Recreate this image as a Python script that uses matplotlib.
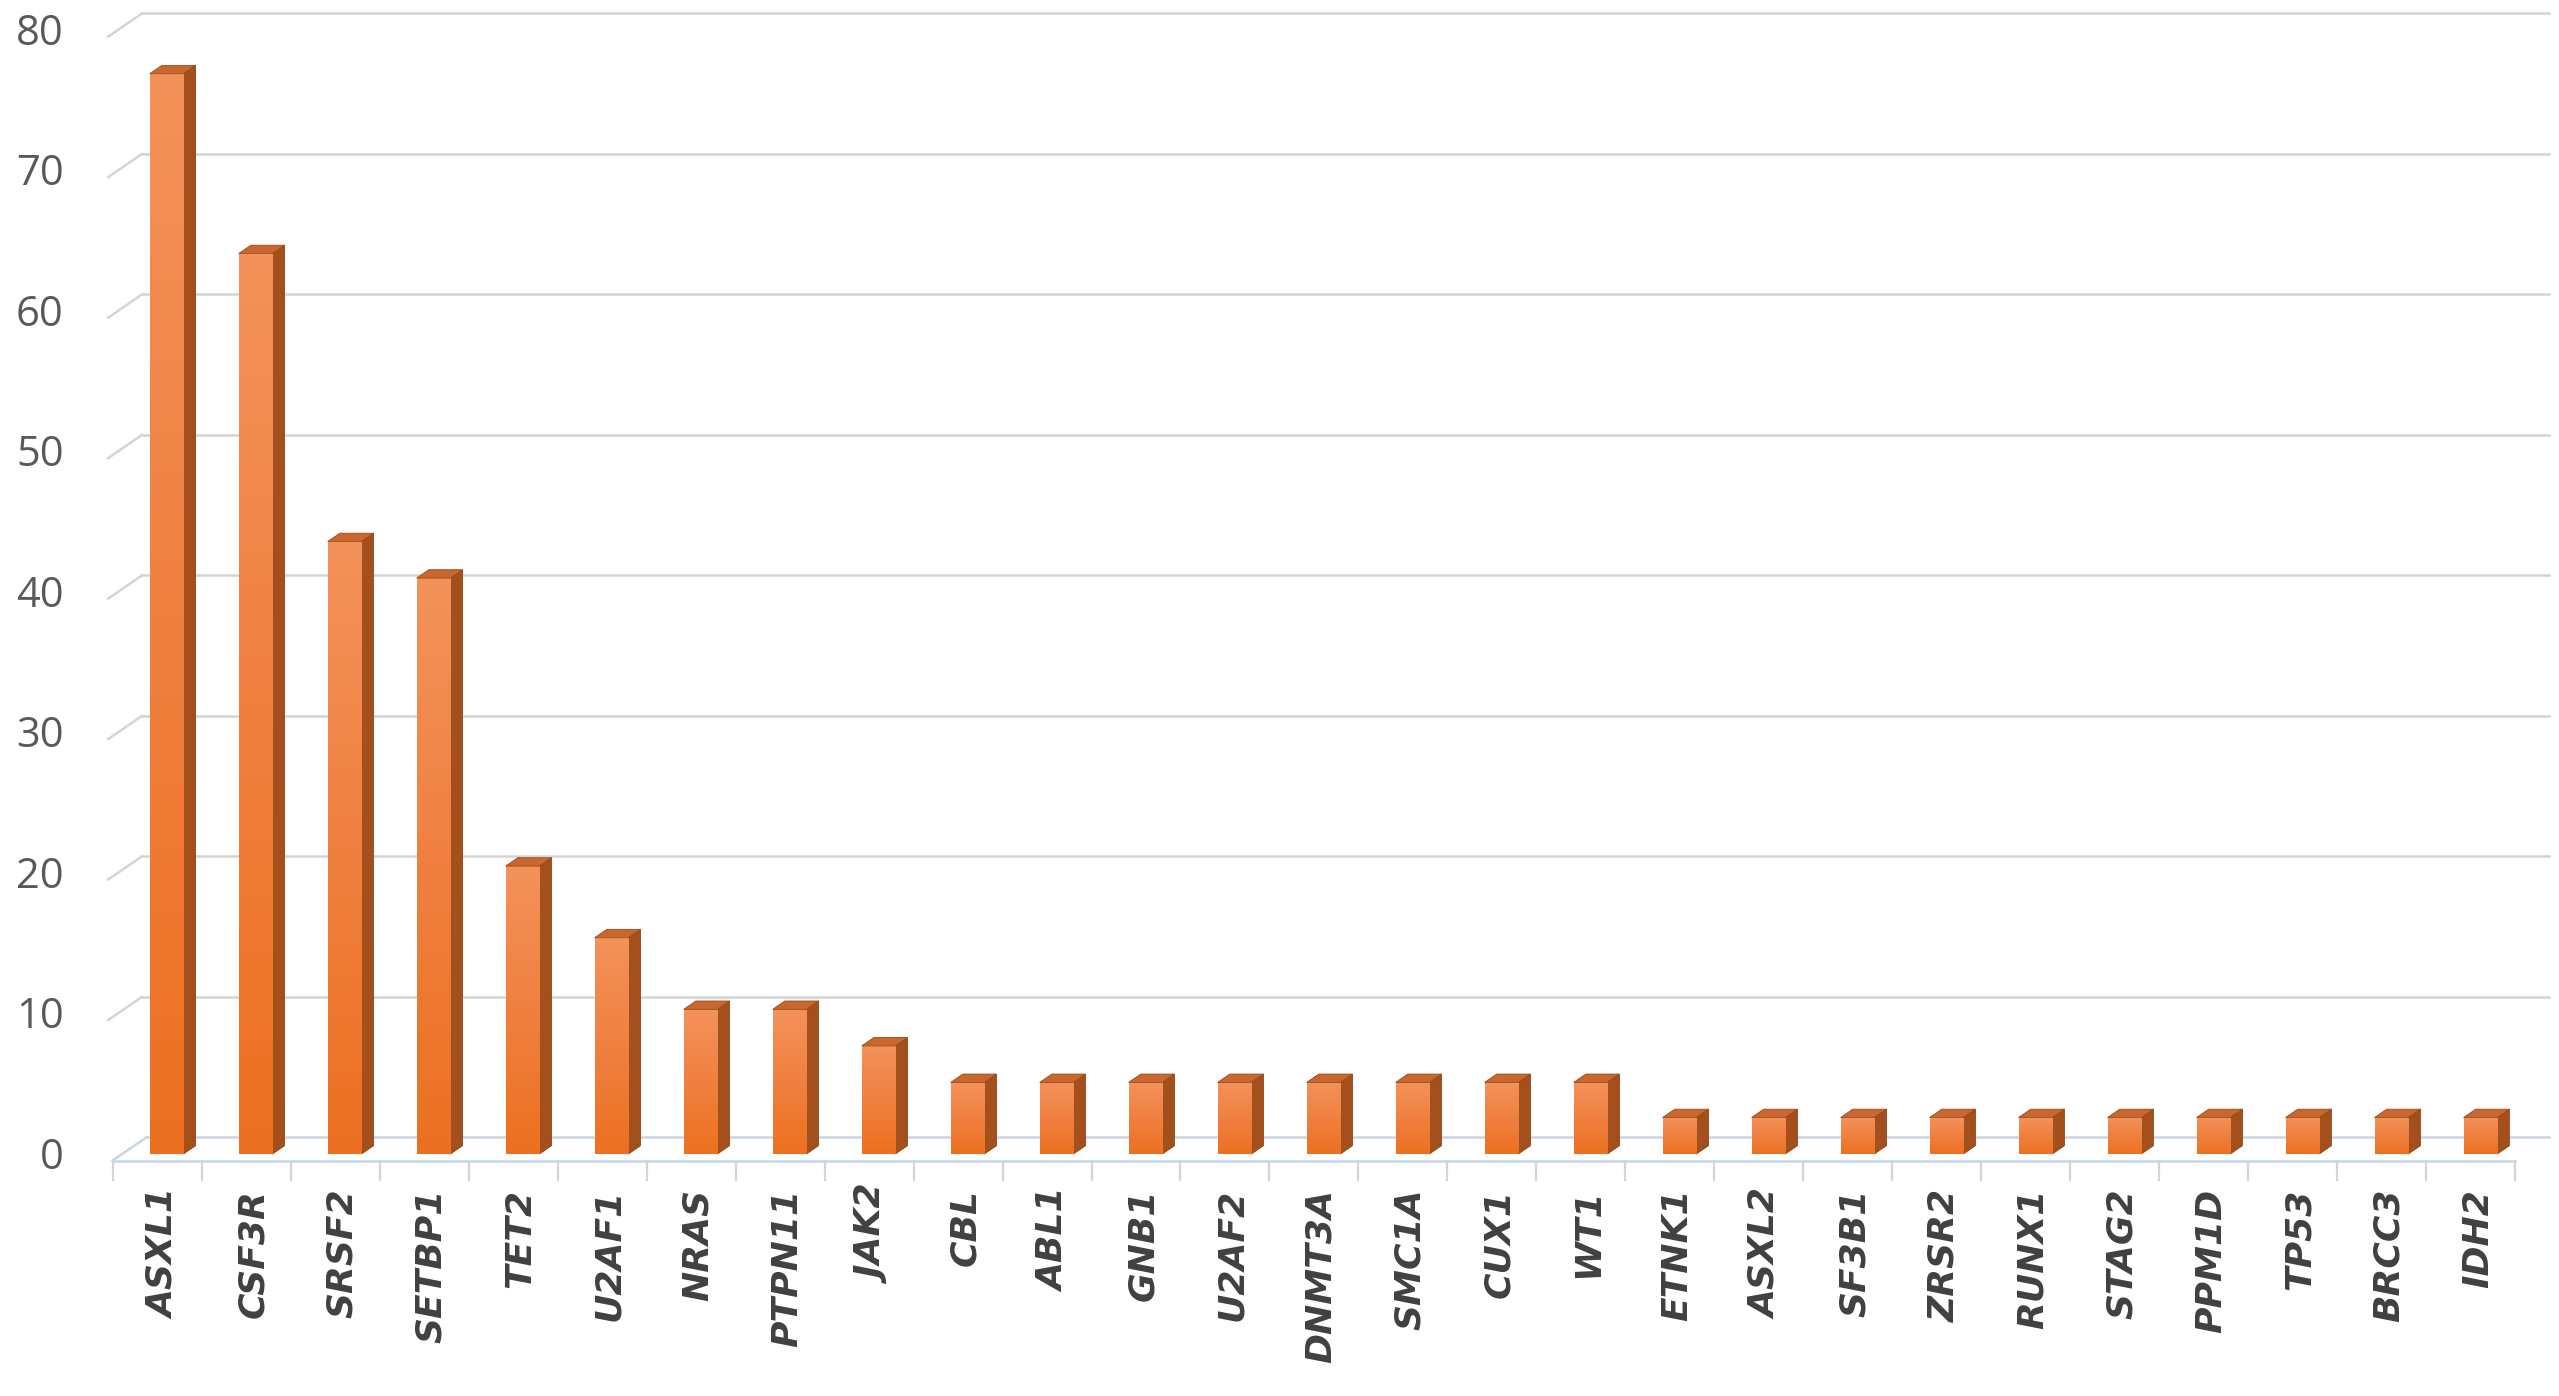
import numpy as np
import matplotlib
matplotlib.use("Agg")
import matplotlib.pyplot as plt
from matplotlib.patches import Polygon
from matplotlib.colors import LinearSegmentedColormap

genes = ["ASXL1", "CSF3R", "SRSF2", "SETBP1", "TET2", "U2AF1", "NRAS", "PTPN11", "JAK2",
         "CBL", "ABL1", "GNB1", "U2AF2", "DNMT3A", "SMC1A", "CUX1", "WT1",
         "ETNK1", "ASXL2", "SF3B1", "ZRSR2", "RUNX1", "STAG2", "PPM1D", "TP53", "BRCC3", "IDH2"]
freq = [76.9, 64.1, 43.6, 41.0, 20.5, 15.4, 10.3, 10.3, 7.7,
        5.1, 5.1, 5.1, 5.1, 5.1, 5.1, 5.1, 5.1,
        2.6, 2.6, 2.6, 2.6, 2.6, 2.6, 2.6, 2.6, 2.6, 2.6]
yticks = [0, 10, 20, 30, 40, 50, 60, 70, 80]

n = len(genes)
DX, DY = 0.38, 1.65          # depth of the "3d" floor in data units
d0, d1 = 0.28, 0.64          # bar front / back depth fraction
bw = 0.378

fig = plt.figure(figsize=(25.59, 13.96), dpi=100)
ax = fig.add_axes([0, 0, 1, 1])
ax.set_xlim(-1.765, 26.99)
ax.set_ylim(-16.76, 82.61)
ax.axis("off")

grid_c = "#D4D4D4"
floor_c = "#C5D6EC"
# back wall gridlines + left diagonals
for v in yticks[1:]:
    ax.plot([-0.55, -0.55 + DX], [v, v + DY], color=grid_c, lw=1.8, zorder=1)
    ax.plot([-0.55 + DX, n - 0.5 + DX], [v + DY, v + DY], color=grid_c, lw=1.8, zorder=1)
# floor
ax.plot([-0.5 + DX, n - 0.5 + DX], [DY, DY], color="#CBD4DF", lw=1.8, zorder=1)
ax.plot([-0.5, -0.5 + DX], [0, DY], color=floor_c, lw=1.8, zorder=1)
ax.plot([-0.5, n - 0.5], [0, 0], color=floor_c, lw=1.8, zorder=1)
for k in range(n + 1):
    ax.plot([k - 0.5, k - 0.5], [0, -1.35], color=grid_c, lw=1.6, zorder=1)

# y tick labels
for v in yticks:
    ax.text(-1.05, v + 0.2, str(v), ha="right", va="center", fontsize=30,
            family="Open Sans", color="#595959")

# bars
x = np.arange(n)
fx = x - bw / 2 + d0 * DX
bars = ax.bar(fx, freq, width=bw, bottom=d0 * DY, align="edge",
              color="#EF7A30", zorder=3, linewidth=0)
cmap = LinearSegmentedColormap.from_list("og", ["#EC7020", "#F08040", "#F3925A"])
grad = np.linspace(0, 1, 256).reshape(-1, 1)
ddx, ddy = (d1 - d0) * DX, (d1 - d0) * DY
for i, b in enumerate(bars):
    x0, y0 = b.get_x(), b.get_y()
    x1, y1 = x0 + b.get_width(), y0 + b.get_height()
    im = ax.imshow(grad, cmap=cmap, extent=[x0, x1, y0, y1], origin="lower",
                   aspect="auto", zorder=3.5)
    im.set_clip_path(b)
    side = Polygon([(x1, y0), (x1 + ddx, y0 + ddy), (x1 + ddx, y1 + ddy), (x1, y1)],
                   closed=True, facecolor="#A4501C", edgecolor="#8E4312", lw=0.6, zorder=3)
    top = Polygon([(x0, y1), (x1, y1), (x1 + ddx, y1 + ddy), (x0 + ddx, y1 + ddy)],
                  closed=True, facecolor="#C9672E", edgecolor="#9A4A18", lw=0.6, zorder=4)
    ax.add_patch(side)
    ax.add_patch(top)

# category labels
for i, g in enumerate(genes):
    ax.text(i + 0.08, -2.0, g, rotation=90, ha="center", va="top", fontsize=26,
            family="DejaVu Sans", fontweight="bold", fontstyle="italic", color="#404040")

plt.savefig("out.png", dpi=100)
